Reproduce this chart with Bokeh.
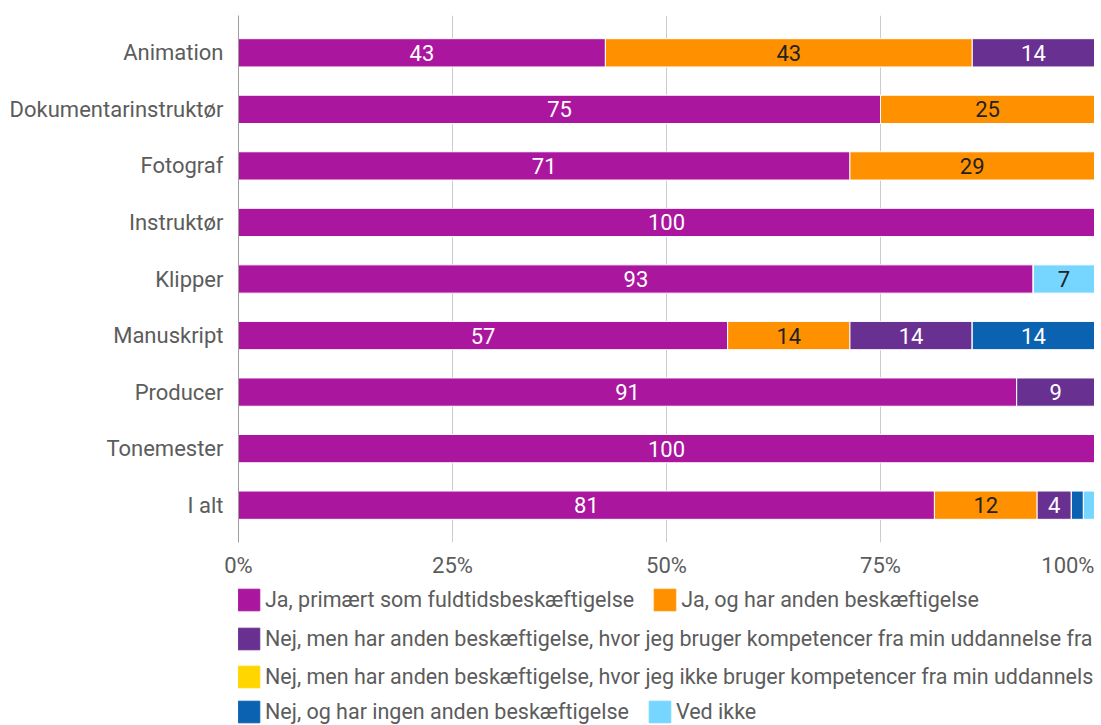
from bokeh.plotting import figure
from bokeh.layouts import column
from bokeh.models import (ColumnDataSource, Range1d, FixedTicker, Legend, LegendItem)
from bokeh.core.properties import value
from bokeh.embed import file_html
from bokeh.resources import INLINE

categories = ["Animation", "Dokumentarinstruktør", "Fotograf", "Instruktør", "Klipper",
              "Manuskript", "Producer", "Tonemester", "I alt"]
series_names = [
    "Ja, primært som fuldtidsbeskæftigelse",
    "Ja, og har anden beskæftigelse",
    "Nej, men har anden beskæftigelse, hvor jeg bruger kompetencer fra min uddannelse fra Filmskolen",
    "Nej, men har anden beskæftigelse, hvor jeg ikke bruger kompetencer fra min uddannelse",
    "Nej, og har ingen anden beskæftigelse",
    "Ved ikke",
]
ja_fuldtid = [42.86, 75.0, 71.43, 100.0, 92.86, 57.14, 90.91, 100.0, 81.3]
ja_anden = [42.86, 25.0, 28.57, 0, 0, 14.29, 0, 0, 12.0]
nej_med_kompetencer = [14.29, 0, 0, 0, 0, 14.29, 9.09, 0, 4.0]
nej_uden_kompetencer = [0, 0, 0, 0, 0, 0, 0, 0, 0]
nej_ingen = [0, 0, 0, 0, 0, 14.29, 0, 0, 1.4]
ved_ikke = [0, 0, 0, 0, 7.14, 0, 0, 0, 1.3]
x_ticks = [0, 25, 50, 75, 100]
x_tick_labels = ["0%", "25%", "50%", "75%", "100%"]

colors = ["#aa169e", "#ff9100", "#683091", "#ffd600", "#0a62b0", "#76d6ff"]
label_colors = ["white", "#222222", "white", "#222222", "white", "#222222"]
keys = ["s0", "s1", "s2", "s3", "s4", "s5"]
series = [ja_fuldtid, ja_anden, nej_med_kompetencer, nej_uden_kompetencer, nej_ingen, ved_ikke]

FONT = "Roboto"
FS = "22px"
LFS = "21.5px"
GREY = "#5c5c5c"
W = 1094
H_MAIN = 580
H_LEG = 145

ypos = list(range(len(categories)))
data = {"y": ypos}
for k, s in zip(keys, series):
    data[k] = s
source = ColumnDataSource(data)

p = figure(width=W, height=H_MAIN, output_backend="svg", toolbar_location=None,
           x_range=Range1d(0, 100), y_range=Range1d(len(categories) - 0.34, -0.66),
           min_border_left=238, min_border_right=0, min_border_top=15, min_border_bottom=30)
p.outline_line_color = None

renderers = p.hbar_stack(keys, y="y", height=0.5, color=colors, source=source,
                         line_color="white", line_width=1)

# value labels
lx, ly, lt, lc = [], [], [], []
for i in range(len(categories)):
    acc = 0.0
    for j, s in enumerate(series):
        v = s[i]
        if v >= 3:
            lx.append(acc + v / 2)
            ly.append(i)
            lt.append(str(int(round(v))))
            lc.append(label_colors[j])
        acc += v
p.text(x=lx, y=ly, text=lt, text_color=lc, text_align="center", text_baseline="middle",
       text_font=value(FONT), text_font_size=FS)

# axes
p.xaxis.ticker = FixedTicker(ticks=x_ticks)
p.xaxis.major_label_overrides = {t: l for t, l in zip(x_ticks, x_tick_labels)}
p.xaxis.axis_line_color = None
p.xaxis.major_tick_line_color = None
p.xaxis.minor_tick_line_color = None
p.xaxis.major_tick_out = 0
p.xaxis.major_label_standoff = 10
p.xaxis.major_label_text_font = FONT
p.xaxis.major_label_text_font_size = FS
p.xaxis.major_label_text_color = GREY

p.yaxis.ticker = FixedTicker(ticks=ypos)
p.yaxis.major_label_overrides = {i: c for i, c in enumerate(categories)}
p.yaxis.axis_line_color = "#9e9e9e"
p.yaxis.major_tick_line_color = None
p.yaxis.minor_tick_line_color = None
p.yaxis.major_tick_out = 0
p.yaxis.major_label_standoff = 15
p.yaxis.major_label_text_font = FONT
p.yaxis.major_label_text_font_size = FS
p.yaxis.major_label_text_color = GREY

p.xgrid.ticker = FixedTicker(ticks=x_ticks)
p.xgrid.grid_line_color = "#cccccc"
p.ygrid.grid_line_color = None

# legend figure (below the chart); its frame is aligned with the chart's frame
pl = figure(width=W, height=H_LEG, output_backend="svg", toolbar_location=None,
            x_range=Range1d(0, 100), y_range=Range1d(0, H_LEG),
            min_border_left=0, min_border_right=0, min_border_top=0, min_border_bottom=0)
pl.outline_line_color = None
pl.axis.visible = False
pl.grid.visible = False
# proxy glyphs for the legend swatches (placed outside the visible range)
legend_glyphs = [pl.hbar(y=[-1000], left=[0], right=[1], height=1, color=c) for c in colors]

rows = [[0, 1], [2], [3], [4, 5]]
row_offsets = [112, 73, 35, 0]
for row, oy in zip(rows, row_offsets):
    items = [LegendItem(label=series_names[j], renderers=[legend_glyphs[j]]) for j in row]
    lg = Legend(items=items, orientation="horizontal", location=(-3, oy),
                margin=0, padding=0, spacing=17, label_standoff=3,
                glyph_width=27, glyph_height=27, label_height=27,
                label_text_font=FONT, label_text_font_size=LFS, label_text_color=GREY,
                border_line_color=None, background_fill_alpha=0)
    pl.add_layout(lg, "center")

layout = column(p, pl, spacing=0)
open("out.html", "w").write(file_html(layout, INLINE))
